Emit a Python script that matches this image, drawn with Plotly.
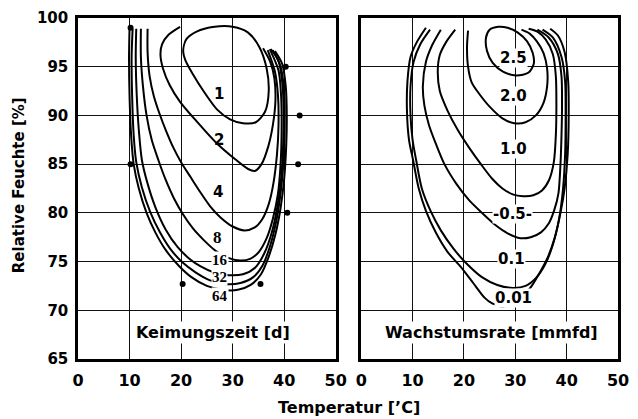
import plotly.graph_objects as go

# ---- Keimungszeit [d] contours (left panel), (Temperatur, Feuchte) ----
K1 = [(20.4,96.6),(21.0,97.8),(23.0,98.6),(26.5,99.1),(30.0,99.1),(33.0,98.5),(35.2,97.0),(36.6,94.8),(37.0,92.5),(36.3,90.4),(34.5,89.3),(32.0,89.2),(29.5,89.6),(27.0,90.6),(24.6,92.3),(22.2,94.3),(20.8,95.7),(20.4,96.6)]
K2 = [(19.8,99.1),(17.6,98.3),(16.3,97.3),(16.0,96.2),(16.5,94.8),(17.8,93.1),(19.8,91.4),(23.0,89.4),(26.8,87.2),(30.5,85.5),(33.0,84.5),(34.3,84.3),(35.6,85.0),(36.9,86.8),(37.8,89.0),(38.3,91.5),(38.1,93.8),(37.3,95.5),(35.9,96.9)]
K4 = [(13.5,98.9),(13.5,96.5),(13.9,94.0),(14.7,92.0),(15.8,90.2),(17.1,88.4),(18.5,86.7),(20.0,85.2),(21.8,83.7),(23.5,82.3),(25.6,80.7),(27.7,79.5),(30.0,78.6),(32.3,78.2),(34.3,78.5),(35.8,79.4),(37.0,80.9),(37.9,83.0),(38.6,86.0),(38.9,89.0),(38.8,92.0),(38.2,94.5),(36.8,96.7)]
K8 = [(12.2,98.9),(12.2,96.0),(12.6,93.0),(13.3,90.0),(14.3,87.5),(15.6,85.4),(17.0,83.4),(18.6,81.5),(20.3,79.9),(22.3,78.4),(24.4,77.2),(26.7,76.1),(29.0,75.4),(31.5,75.1),(33.5,75.3),(35.1,76.0),(36.6,77.4),(37.8,79.4),(38.8,82.0),(39.3,85.0),(39.5,88.5),(39.4,92.0),(38.9,94.6),(37.2,96.8)]
K16 = [(11.3,98.9),(11.2,96.0),(11.4,92.0),(11.8,88.5),(12.4,85.4),(13.5,83.0),(15.0,80.6),(17.0,78.3),(19.3,76.5),(21.6,75.3),(23.8,74.5),(26.3,73.9),(29.2,73.6),(32.0,73.7),(34.4,74.4),(36.1,75.8),(37.5,77.8),(38.6,80.4),(39.4,83.5),(39.8,87.0),(39.9,90.5),(39.6,93.5),(38.9,95.6),(37.4,96.8)]
K32 = [(10.6,98.9),(10.4,96.0),(10.5,92.0),(10.8,88.0),(11.3,85.2),(12.4,82.6),(14.0,80.1),(15.9,78.0),(17.9,76.3),(20.3,74.9),(22.8,73.9),(25.5,73.1),(28.5,72.7),(31.5,72.8),(34.0,73.4),(35.8,74.6),(37.2,76.5),(38.4,79.0),(39.3,82.0),(39.9,85.5),(40.1,89.0),(40.0,92.5),(39.3,95.0),(37.8,96.7)]
K64 = [(10.0,99.0),(9.9,96.0),(10.0,92.0),(10.3,88.0),(10.8,85.0),(11.8,82.5),(13.3,80.0),(15.0,78.0),(17.0,76.2),(19.5,74.6),(22.0,73.4),(25.0,72.5),(28.0,72.1),(31.0,72.1),(33.5,72.6),(35.5,73.7),(37.0,75.5),(38.3,77.8),(39.3,80.5),(40.0,83.5),(40.4,87.0),(40.5,90.0),(40.3,93.0),(39.6,95.3),(38.2,96.6)]
KEIM_CURVES = [K1, K2, K4, K8, K16, K32, K64]

DOT_X = [10.2, 40.3, 43.0, 42.7, 10.2, 40.6, 20.3, 35.4]
DOT_Y = [99.0, 95.0, 90.0, 85.0, 85.0, 80.0, 72.7, 72.7]

KEIM_LABELS_SANS = [("1", 27.3, 92.2), ("2", 27.3, 87.5), ("4", 27.1, 82.1)]
KEIM_LABELS_SERIF = [("8", 27.1, 77.5), ("16", 27.5, 75.2), ("32", 27.5, 73.4), ("64", 27.5, 71.5)]

# ---- Wachstumsrate [mmfd] contours (right panel) ----
W25 = [(24.3,98.0),(25.0,98.8),(26.7,99.1),(28.5,99.0),(30.5,98.5),(32.3,97.6),(33.4,96.4),(33.6,95.3),(32.6,94.4),(30.2,94.1),(27.6,94.5),(25.6,95.4),(24.5,96.6),(24.3,98.0)]
W20 = [(20.8,98.7),(20.6,97.0),(20.8,95.0),(21.5,93.4),(23.0,92.2),(25.0,90.9),(27.5,89.7),(29.8,89.2),(32.0,89.3),(34.0,90.0),(35.5,91.3),(36.2,93.0),(36.2,94.8),(35.5,96.4),(34.2,97.6),(32.8,98.4),(31.2,98.8)]
W10 = [(18.3,98.8),(16.5,97.5),(15.3,96.2),(14.9,94.5),(15.3,92.5),(16.8,90.5),(18.8,88.5),(21.0,86.7),(23.3,85.0),(25.5,83.5),(27.5,82.5),(29.5,81.9),(31.5,81.7),(33.5,81.8),(35.2,82.3),(36.6,83.4),(37.5,85.2),(37.9,88.0),(38.0,91.0),(37.9,94.0),(37.3,96.3),(35.9,97.8),(34.3,98.6),(32.6,98.9)]
W05 = [(15.5,98.8),(13.8,97.2),(12.6,95.5),(12.0,93.0),(12.3,91.0),(13.2,89.0),(14.6,87.0),(16.2,85.0),(18.5,83.0),(21.0,81.3),(23.5,80.0),(26.0,78.8),(28.5,77.9),(31.0,77.4),(33.0,77.5),(35.0,78.0),(36.5,78.9),(37.6,80.3),(38.4,82.0),(38.8,85.0),(39.0,88.0),(39.1,91.0),(39.0,94.0),(38.3,96.3),(36.5,98.0),(34.3,98.8)]
W01 = [(13.4,98.8),(11.5,97.3),(10.2,95.5),(9.6,93.0),(9.6,90.0),(10.0,87.5),(10.7,85.4),(11.8,82.5),(13.5,80.2),(15.5,78.2),(18.0,76.3),(20.5,74.8),(23.5,73.4),(26.5,72.6),(29.5,72.3),(32.0,72.5),(34.0,73.3),(35.8,74.7),(37.3,76.7),(38.5,79.3),(39.3,82.5),(39.7,86.0),(39.8,90.0),(39.7,93.5),(39.0,96.0),(37.3,98.0),(35.3,98.8)]
W001 = [(12.6,99.0),(10.8,97.5),(9.6,96.0),(9.0,93.5),(8.9,90.5),(9.3,87.5),(10.1,85.4),(11.2,82.5),(12.6,80.2),(14.5,78.0),(16.8,76.0),(19.3,74.5),(21.8,72.8),(24.0,71.3),(25.5,70.7),(27.5,70.4),(29.5,70.7),(31.5,71.4),(33.2,72.5),(34.8,73.9),(36.3,75.4),(37.7,77.5),(38.8,80.0),(39.6,82.5),(40.2,86.0),(40.4,90.0),(40.3,93.5),(39.6,96.5),(38.3,98.2),(36.8,98.9)]
WACHS_CURVES = [W25, W20, W10, W05, W01, W001]

WACHS_LABELS = [("2.5", 29.6, 95.9), ("2.0", 29.6, 92.0), ("1.0", 29.6, 86.6),
                ("-0.5-", 29.5, 79.9), ("0.1", 29.2, 75.3), ("0.01", 29.6, 71.3)]

X_TICKS = [0, 10, 20, 30, 40, 50]
Y_TICKS = [65, 70, 75, 80, 85, 90, 95, 100]

BOLD = dict(family="DejaVu Sans", color="black", weight="bold")

fig = go.Figure()

def add_curve(pts, xa, ya):
    fig.add_trace(go.Scatter(
        x=[p[0] for p in pts], y=[p[1] for p in pts], mode="lines",
        line=dict(color="black", width=2, shape="spline", smoothing=0.8),
        xaxis=xa, yaxis=ya, showlegend=False, hoverinfo="skip"))

for c in KEIM_CURVES:
    add_curve(c, "x", "y")
for c in WACHS_CURVES:
    add_curve(c, "x2", "y2")

fig.add_trace(go.Scatter(x=DOT_X, y=DOT_Y, mode="markers",
                         marker=dict(color="black", size=6),
                         xaxis="x", yaxis="y", showlegend=False, hoverinfo="skip"))

ann = []
for t, x, y in KEIM_LABELS_SANS:
    ann.append(dict(text=t, x=x, y=y, xref="x", yref="y", showarrow=False,
                    font=dict(size=15, **BOLD)))
for t, x, y in KEIM_LABELS_SERIF:
    ann.append(dict(text=t, x=x, y=y, xref="x", yref="y", showarrow=False,
                    bgcolor="white" if t != "8" else None, borderpad=0,
                    font=dict(family="Liberation Serif", size=17 if t == "8" else 15,
                              color="black", weight="bold")))
for t, x, y in WACHS_LABELS:
    ann.append(dict(text=t, x=x, y=y, xref="x2", yref="y2", showarrow=False,
                    bgcolor="white", borderpad=0, font=dict(size=15, **BOLD)))

ann.append(dict(text="Keimungszeit [d]", x=26.1, y=67.7, xref="x", yref="y",
                showarrow=False, bgcolor="white", borderpad=1, font=dict(size=16, **BOLD)))
ann.append(dict(text="Wachstumsrate [mmfd]", x=25.4, y=67.7, xref="x2", yref="y2",
                showarrow=False, bgcolor="white", borderpad=1, font=dict(size=16, **BOLD)))
ann.append(dict(text="Temperatur [’C]", x=0.5027, y=-0.1433, xref="paper", yref="paper",
                showarrow=False, xanchor="center", yanchor="middle", font=dict(size=16, **BOLD)))
ann.append(dict(text="Relative Feuchte [%]", x=-0.108, y=0.5088, xref="paper", yref="paper",
                showarrow=False, textangle=-90, xanchor="center", yanchor="middle",
                font=dict(size=15, **BOLD)))

axis_common = dict(showgrid=True, gridcolor="#111111", gridwidth=1.3, zeroline=False,
                   showline=True, linecolor="black", linewidth=2.5, mirror=True)

fig.update_layout(
    width=638, height=419,
    margin=dict(l=78, r=9, t=17, b=60),
    plot_bgcolor="white", paper_bgcolor="white",
    xaxis=dict(domain=[0, 0.4773], range=[0, 50], tickvals=X_TICKS,
               ticks="outside", ticklen=5, tickcolor="rgba(0,0,0,0)",
               tickfont=dict(size=16, **BOLD), anchor="y", **axis_common),
    yaxis=dict(domain=[0, 1], range=[65, 100], tickvals=Y_TICKS,
               ticks="outside", ticklen=4, tickcolor="rgba(0,0,0,0)",
               tickfont=dict(size=15, **BOLD), anchor="x", **axis_common),
    xaxis2=dict(domain=[0.5245, 1], range=[0, 50], tickvals=X_TICKS,
                ticks="outside", ticklen=5, tickcolor="rgba(0,0,0,0)",
                tickfont=dict(size=16, **BOLD), anchor="y2", **axis_common),
    yaxis2=dict(domain=[0, 1], range=[65, 100], tickvals=Y_TICKS, showticklabels=False,
                anchor="x2", **axis_common),
    annotations=ann,
)

fig.write_html("out.html")
